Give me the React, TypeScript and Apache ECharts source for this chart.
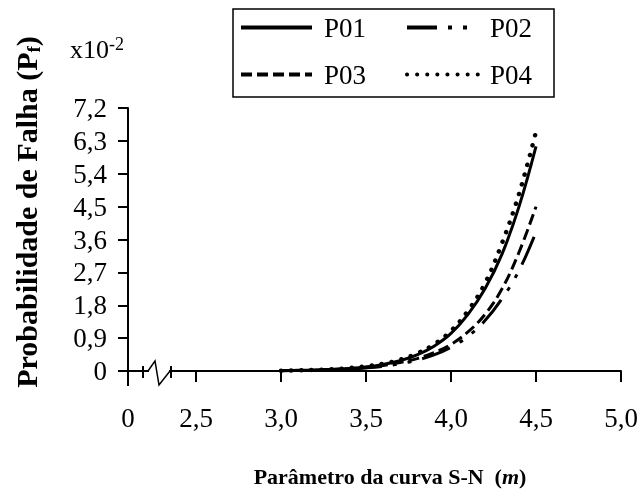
import React, { useEffect, useRef } from "react";
import * as echarts from "echarts";

const mValues = [3.0, 3.1, 3.2, 3.3, 3.4, 3.5, 3.6, 3.7, 3.8, 3.9, 4.0, 4.1, 4.2, 4.3, 4.4, 4.5];
const p01 = [0.01, 0.02, 0.03, 0.05, 0.07, 0.11, 0.18, 0.28, 0.44, 0.68, 1.03, 1.55, 2.25, 3.2, 4.5, 6.15];
const p02 = [0.01, 0.015, 0.02, 0.035, 0.055, 0.085, 0.13, 0.2, 0.3, 0.44, 0.65, 0.95, 1.38, 1.98, 2.75, 3.8];
const p03 = [0.01, 0.015, 0.02, 0.04, 0.06, 0.1, 0.15, 0.23, 0.34, 0.5, 0.73, 1.07, 1.55, 2.25, 3.25, 4.5];
const p04 = [0.01, 0.02, 0.03, 0.05, 0.08, 0.13, 0.2, 0.31, 0.48, 0.73, 1.1, 1.65, 2.4, 3.5, 4.85, 6.55];
const seriesNames = ["P01", "P02", "P03", "P04"];

const xMin = 2.1;
const xMax = 5.0;
const xLabelValues = [2.1, 2.5, 3.0, 3.5, 4.0, 4.5, 5.0];
const xTickValues = [2.5, 3.0, 3.5, 4.0, 4.5, 5.0];
const yMax = 7.2;
const yInterval = 0.9;

const FONT = '"Liberation Serif", "Times New Roman", serif';

export default function App() {
  const ref = useRef<HTMLDivElement>(null);
  useEffect(() => {
    if (!ref.current) return;
    const chart = echarts.init(ref.current, undefined, { renderer: "svg" });
    const mk = (arr: number[]) => mValues.map((m, i) => [m, arr[i]]);
    const styles = [
      { type: "solid" as any, width: 3, cap: "butt" },
      { type: [30, 11, 4, 11, 4, 11], width: 3, cap: "butt" },
      { type: [11, 5], width: 3, cap: "butt" },
      { type: [0.1, 10], width: 4.5, cap: "round" },
    ];
    const datas = [p01, p02, p03, p04];
    chart.setOption({
      animation: false,
      grid: { left: 128, right: 19, top: 108, bottom: 123, outerBoundsMode: "none", containLabel: false },
      legend: {
        left: 233,
        top: 9,
        width: 330,
        orient: "horizontal",
        padding: [5, 3, 9, 6],
        itemGap: 20,
        itemWidth: 71,
        itemHeight: 14,
        borderColor: "#000",
        borderWidth: 1.5,
        backgroundColor: "#fff",
        itemStyle: { opacity: 0 },
        lineStyle: { width: 4 },
        textStyle: {
          fontFamily: FONT,
          fontSize: 27,
          color: "#000",
          lineHeight: 24,
          width: 61,
          padding: [0, 0, 0, 7],
        },
        data: seriesNames,
      },
      xAxis: {
        type: "value",
        min: xMin,
        max: xMax,
        axisLine: { show: true, onZero: false, lineStyle: { color: "#000", width: 2 } },
        axisTick: { show: true, inside: false, length: 11, customValues: xTickValues, lineStyle: { color: "#000", width: 2 } },
        axisLabel: {
          customValues: xLabelValues,
          margin: 33,
          fontFamily: FONT,
          fontSize: 27,
          color: "#000",
          formatter: (v: number) => (Math.abs(v - xMin) < 1e-6 ? "0" : v.toFixed(1).replace(".", ",")),
        },
        splitLine: { show: false },
      },
      yAxis: {
        type: "value",
        min: 0,
        max: yMax,
        interval: yInterval,
        axisLine: { show: true, lineStyle: { color: "#000", width: 2 } },
        axisTick: { show: true, inside: false, length: 10, lineStyle: { color: "#000", width: 2 } },
        axisLabel: {
          margin: 21,
          fontFamily: FONT,
          fontSize: 27,
          color: "#000",
          formatter: (v: number) => (v === 0 ? "0" : v.toFixed(1).replace(".", ",")),
        },
        splitLine: { show: false },
      },
      series: seriesNames.map((name, i) => ({
        name,
        type: "line",
        data: mk(datas[i]),
        smooth: 0.4,
        showSymbol: false,
        symbol: "none",
        lineStyle: { color: "#000", ...styles[i] },
        itemStyle: { color: "#000" },
        z: 2 + i,
      })),
    });

    const o = chart.convertToPixel({ gridIndex: 0 }, [xMin, 0]) as number[];
    const ox = o[0];
    const oy = o[1];
    const blk = { stroke: "#000", lineWidth: 2, fill: "none" };
    chart.setOption({
      graphic: [
        {
          type: "text",
          left: 70,
          top: 35,
          style: {
            text: "x10{sup|-2}",
            fontFamily: FONT,
            fontSize: 26,
            fill: "#000",
            lineHeight: 28,
            rich: { sup: { fontFamily: FONT, fontSize: 18, verticalAlign: "top", lineHeight: 28, fill: "#000" } },
          },
        },
        {
          type: "text",
          x: 26,
          y: 212,
          rotation: Math.PI / 2,
          style: {
            text: "Probabilidade de Falha (P{sub|f})",
            fontFamily: FONT,
            fontSize: 30,
            fontWeight: "bold",
            fill: "#000",
            align: "center",
            verticalAlign: "middle",
            lineHeight: 34,
            rich: { sub: { fontFamily: FONT, fontSize: 19, fontWeight: "bold", verticalAlign: "bottom", lineHeight: 34, fill: "#000" } },
          },
        },
        {
          type: "text",
          x: 390,
          y: 476,
          style: {
            text: "Parâmetro da curva S-N  ({it|m})",
            fontFamily: FONT,
            fontSize: 22,
            fontWeight: "bold",
            fill: "#000",
            align: "center",
            verticalAlign: "middle",
            rich: { it: { fontFamily: FONT, fontSize: 22, fontWeight: "bold", fontStyle: "italic", fill: "#000" } },
          },
        },
        { type: "line", shape: { x1: ox, y1: oy, x2: ox, y2: oy + 15 }, style: blk, z: 10 },
        { type: "rect", shape: { x: ox + 21, y: oy - 3, width: 20, height: 6 }, style: { fill: "#fff", stroke: "none" }, z: 10 },
        {
          type: "polyline",
          shape: { points: [[ox + 20, oy], [ox + 27, oy - 10], [ox + 31, oy + 14], [ox + 42, oy]] },
          style: { stroke: "#000", lineWidth: 1.5, fill: "none" },
          z: 11,
        },
        { type: "line", shape: { x1: ox + 15, y1: oy - 5, x2: ox + 15, y2: oy + 7 }, style: blk, z: 11 },
        { type: "line", shape: { x1: ox + 43, y1: oy - 5, x2: ox + 43, y2: oy + 7 }, style: blk, z: 11 },
      ],
    });
    return () => chart.dispose();
  }, []);
  return <div ref={ref} style={{ position: "fixed", left: 0, top: 0, width: 640, height: 494 }} />;
}
